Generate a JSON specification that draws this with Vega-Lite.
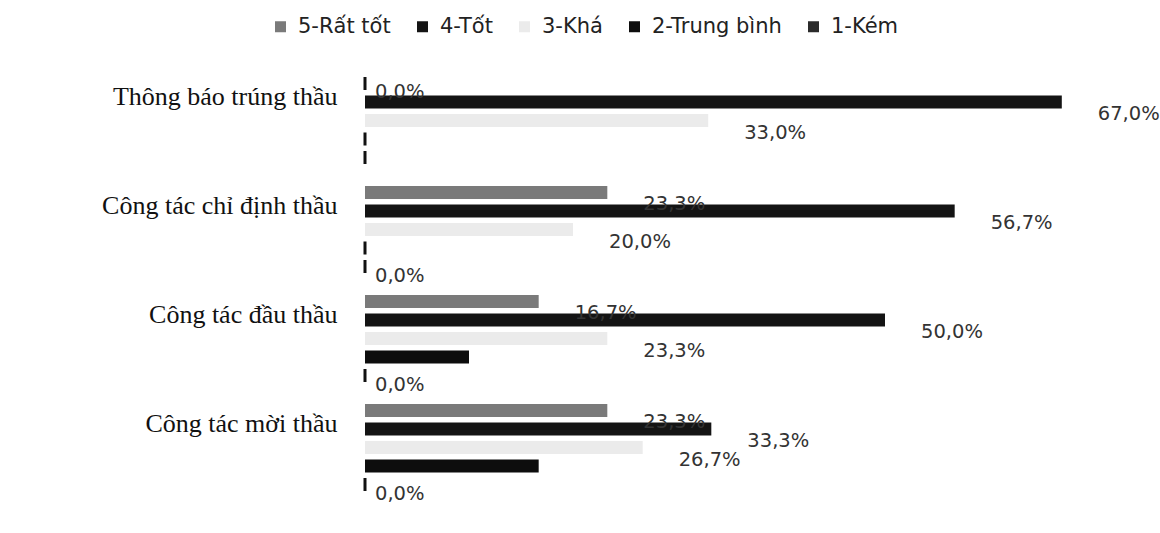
{
  "$schema": "https://vega.github.io/schema/vega-lite/v6.json",
  "autosize": {"type": "none"},
  "width": 780,
  "height": 436,
  "padding": {"left": 365, "top": 66, "right": 15, "bottom": 31},
  "background": "white",
  "config": {
    "locale": {"number": {"decimal": ",", "thousands": ".", "grouping": [3], "currency": ["", "₫"]}},
    "view": {"stroke": null}
  },
  "data": {"values": [
    {"cat": "Thông báo trúng thầu", "series": "5-Rất tốt", "value": 0.0, "show": true},
    {"cat": "Thông báo trúng thầu", "series": "4-Tốt", "value": 0.67, "show": true},
    {"cat": "Thông báo trúng thầu", "series": "3-Khá", "value": 0.33, "show": true},
    {"cat": "Thông báo trúng thầu", "series": "2-Trung bình", "value": 0.0, "show": false},
    {"cat": "Thông báo trúng thầu", "series": "1-Kém", "value": 0.0, "show": false},
    {"cat": "Công tác chỉ định thầu", "series": "5-Rất tốt", "value": 0.233, "show": true},
    {"cat": "Công tác chỉ định thầu", "series": "4-Tốt", "value": 0.567, "show": true},
    {"cat": "Công tác chỉ định thầu", "series": "3-Khá", "value": 0.2, "show": true},
    {"cat": "Công tác chỉ định thầu", "series": "2-Trung bình", "value": 0.0, "show": false},
    {"cat": "Công tác chỉ định thầu", "series": "1-Kém", "value": 0.0, "show": true},
    {"cat": "Công tác đầu thầu", "series": "5-Rất tốt", "value": 0.167, "show": true},
    {"cat": "Công tác đầu thầu", "series": "4-Tốt", "value": 0.5, "show": true},
    {"cat": "Công tác đầu thầu", "series": "3-Khá", "value": 0.233, "show": true},
    {"cat": "Công tác đầu thầu", "series": "2-Trung bình", "value": 0.1, "show": false},
    {"cat": "Công tác đầu thầu", "series": "1-Kém", "value": 0.0, "show": true},
    {"cat": "Công tác mời thầu", "series": "5-Rất tốt", "value": 0.233, "show": true},
    {"cat": "Công tác mời thầu", "series": "4-Tốt", "value": 0.333, "show": true},
    {"cat": "Công tác mời thầu", "series": "3-Khá", "value": 0.267, "show": true},
    {"cat": "Công tác mời thầu", "series": "2-Trung bình", "value": 0.167, "show": false},
    {"cat": "Công tác mời thầu", "series": "1-Kém", "value": 0.0, "show": true}
  ]},
  "encoding": {
    "y": {
      "field": "cat", "type": "nominal", "sort": null, "title": null,
      "scale": {"paddingInner": 0.2, "paddingOuter": 0.1},
      "axis": {"domain": false, "ticks": false, "labelFont": "Liberation Serif", "labelFontSize": 26, "labelColor": "#111", "labelPadding": 28, "labelOffset": -24, "labelLimit": 400}
    },
    "yOffset": {
      "field": "series", "type": "nominal", "sort": ["5-Rất tốt", "4-Tốt", "3-Khá", "2-Trung bình", "1-Kém"],
      "scale": {"paddingInner": 0.3, "paddingOuter": 0}
    },
    "x": {
      "field": "value", "type": "quantitative", "title": null,
      "scale": {"domain": [0, 0.75], "nice": false},
      "axis": null
    }
  },
  "layer": [
    {
      "mark": {"type": "bar"},
      "encoding": {
        "color": {
          "field": "series", "type": "nominal", "title": null,
          "sort": ["5-Rất tốt", "4-Tốt", "3-Khá", "2-Trung bình", "1-Kém"],
          "scale": {"domain": ["5-Rất tốt", "4-Tốt", "3-Khá", "2-Trung bình", "1-Kém"], "range": ["#7a7a7a", "#141414", "#ebebeb", "#0d0d0d", "#2b2b2b"]},
          "legend": {
            "orient": "none", "direction": "horizontal", "legendX": -95, "legendY": -50,
            "symbolType": "square", "symbolSize": 121, "symbolStrokeWidth": 0,
            "labelFont": "DejaVu Sans", "labelFontSize": 21, "labelColor": "#222",
            "columnPadding": 21, "labelOffset": 7, "labelLimit": 300
          }
        }
      }
    },
    {
      "transform": [{"filter": "datum.value == 0"}],
      "mark": {"type": "bar", "stroke": "#111", "strokeWidth": 3, "fill": "#111"},
      "encoding": {}
    },
    {
      "transform": [{"filter": "datum.show && datum.value > 0"}],
      "mark": {"type": "text", "align": "left", "baseline": "middle", "dx": 36, "dy": 12, "font": "DejaVu Sans", "fontSize": 19.5, "color": "#333"},
      "encoding": {"text": {"field": "value", "type": "quantitative", "format": ".1%"}}
    },
    {
      "transform": [{"filter": "datum.show && datum.value == 0"}],
      "mark": {"type": "text", "align": "left", "baseline": "middle", "dx": 10, "dy": 9, "font": "DejaVu Sans", "fontSize": 19.5, "color": "#333"},
      "encoding": {"text": {"field": "value", "type": "quantitative", "format": ".1%"}}
    }
  ]
}
